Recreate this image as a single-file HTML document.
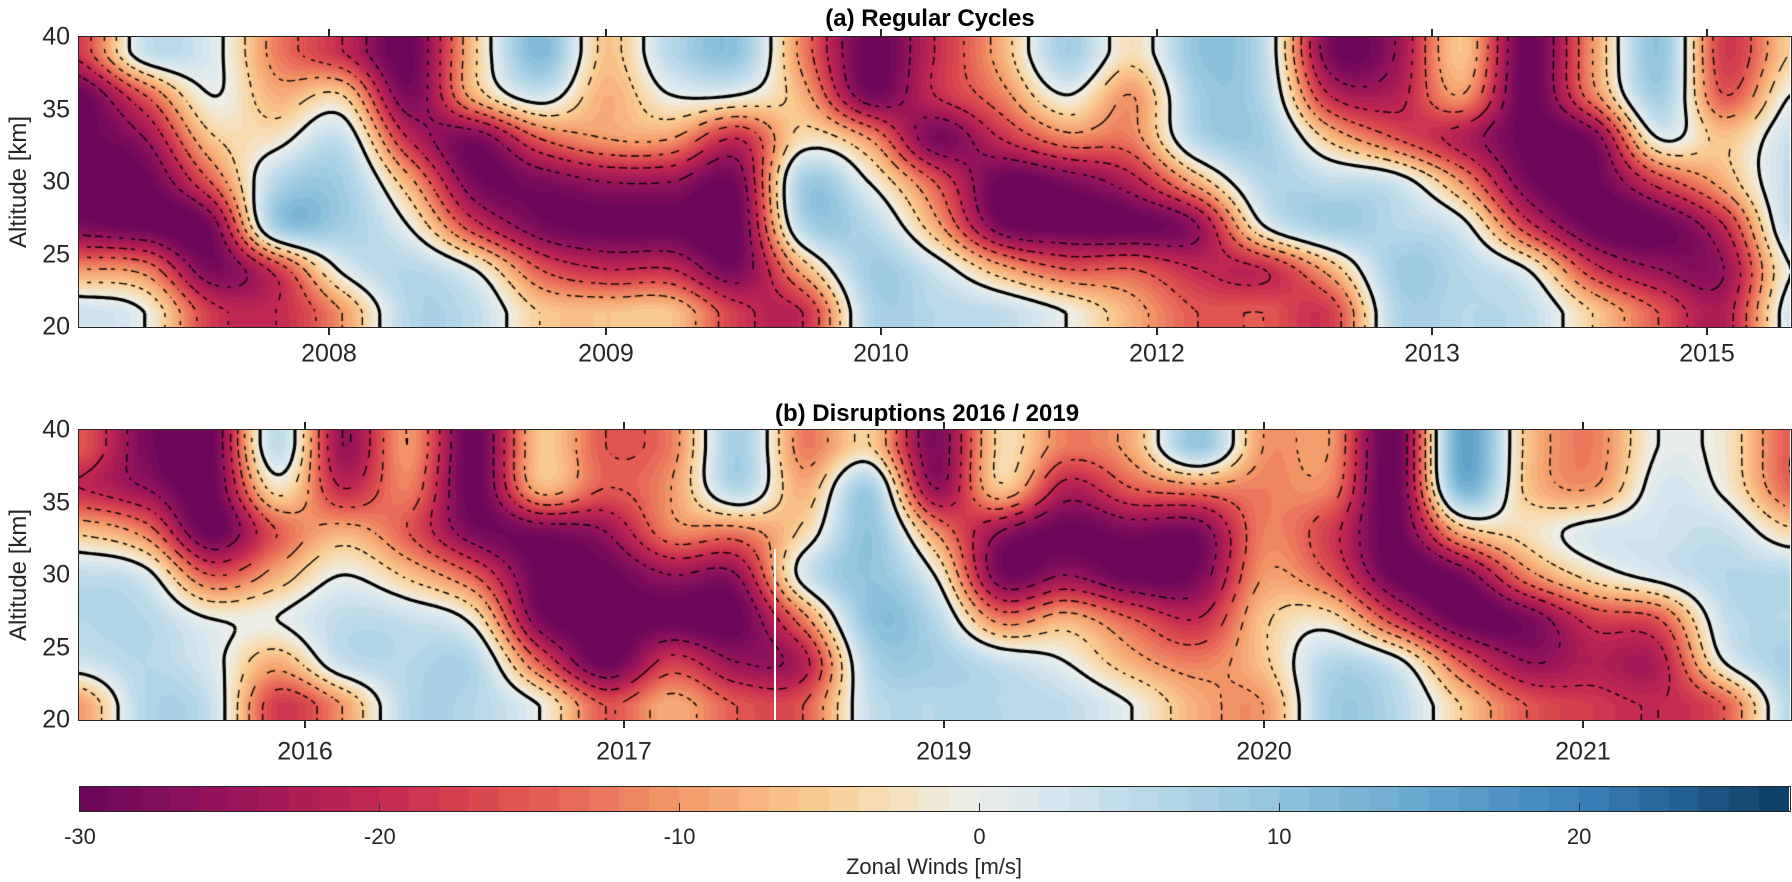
<!DOCTYPE html>
<html>
<head>
<meta charset="utf-8">
<style>
  html,body{margin:0;padding:0;background:#fff;}
  body{width:1792px;height:882px;position:relative;overflow:hidden;font-family:"Liberation Sans",Arial,sans-serif;color:#262626;}
  .abs{position:absolute;}
  .title{position:absolute;font-weight:bold;font-size:24px;color:#000;white-space:nowrap;transform:translate(-50%,-50%);}
  .frame{position:absolute;border:1.5px solid #262626;box-sizing:border-box;pointer-events:none;}
  .tl{position:absolute;font-size:25px;white-space:nowrap;transform:translate(-50%,-50%);}
  .yl{position:absolute;font-size:25px;white-space:nowrap;transform:translate(-100%,-50%);}
  .tick{position:absolute;background:#262626;width:1.5px;height:8px;}
  .ylab{position:absolute;font-size:24px;white-space:nowrap;transform:translate(-50%,-50%) rotate(-90deg);}
  .cbl{position:absolute;font-size:22px;white-space:nowrap;transform:translate(-50%,-50%);}
</style>
</head>
<body>
<div class="title" style="left:930px;top:19px;">(a) Regular Cycles</div>
<div class="title" style="left:927px;top:414px;">(b) Disruptions 2016 / 2019</div>

<canvas id="cvA" class="abs" width="1711" height="290" style="left:79px;top:37px;"></canvas>
<canvas id="cvB" class="abs" width="1711" height="290" style="left:79px;top:430px;"></canvas>
<div class="abs" style="left:774px;top:549px;width:2px;height:171px;background:#fff;"></div>
<div class="frame" style="left:78px;top:36px;width:1714px;height:292px;"></div>
<div class="frame" style="left:78px;top:429px;width:1714px;height:292px;"></div>

<div class="ylab" style="left:19px;top:182px;">Altitude [km]</div>
<div class="ylab" style="left:19px;top:575px;">Altitude [km]</div>

<canvas id="cvBar" class="abs" width="1709" height="24" style="left:80px;top:787px;"></canvas>
<div class="frame" style="left:79px;top:786px;width:1712px;height:26px;"></div>
<div class="cbl" style="left:934px;top:867px;">Zonal Winds [m/s]</div>

<div id="axes"></div>

<script>
// ---------- Panel (a) data: zonal wind [m/s] per altitude row, 27 time columns ----------
const aAlt21 = [4,0,-18,-20,-10,6,5,-5,-6,-6,-18,-20,6,6,5,0,-8,-15,-15,-18,6,6,5,-5,-15,-22,3];
const aAlt24 = [-10,-12,-28,-18,1,6,0,-15,-20,-20,-28,-8,8,3,-8,-15,-15,-20,-20,-8,8,6,0,-18,-25,-25,0];
const aAlt27 = [-28,-30,-28,8,8,0,-18,-28,-30,-30,-30,6,6,-8,-28,-30,-30,-25,0,8,6,2,-18,-30,-30,-20,5];
const aAlt30 = [-30,-30,-15,6,8,-8,-28,-28,-25,-25,-28,8,0,-15,-30,-28,-22,-8,6,5,3,-10,-28,-30,-18,-8,5];
const aAlt33 = [-30,-25,-6,-2,4,-20,-28,-15,-10,-10,-20,-3,-10,-28,-20,-12,-12,6,8,-6,-15,-22,-30,-28,0,-6,4];
const aAlt36 = [-30,-15,0,-8,-5,-28,-8,3,-8,0,0,-8,-28,-20,-12,0,-10,8,6,-20,-22,-10,-30,-12,8,-15,0];
const aAlt39 = [-18,4,2,-12,-20,-30,-6,12,-6,6,10,-12,-30,-20,-8,8,-3,10,5,-28,-25,-6,-30,-10,10,-18,-5];
// ---------- Panel (b) data ----------
const bAlt21 = [-10,6,4,-18,-10,6,6,0,-15,-8,-15,-15,4,6,6,5,0,-8,-10,8,6,-5,-15,-18,-20,-15,6];
const bAlt24 = [3,6,2,-8,4,6,6,-15,-30,-18,-25,-22,6,8,4,0,-8,-12,-6,6,2,-15,-25,-22,-22,0,8];
const bAlt27 = [6,6,0,0,5,4,-2,-28,-30,-30,-30,-12,10,6,-12,-8,-15,-20,-6,-3,-18,-30,-28,-18,-15,4,6];
const bAlt30 = [5,2,-15,-8,0,-6,-15,-30,-30,-25,-25,2,10,0,-28,-25,-30,-28,-10,-15,-30,-28,-12,-3,2,6,6];
const bAlt33 = [-6,-12,-30,-15,-8,-15,-28,-28,-25,-12,-12,-4,10,-10,-25,-30,-28,-28,-12,-18,-30,-8,-3,2,3,4,-4];
const bAlt36 = [-20,-25,-30,-3,-20,-12,-30,-8,-15,-10,6,-8,8,-25,-6,-22,-15,-12,-12,-12,-30,12,-6,-10,2,-1,-14];
const bAlt39 = [-15,-28,-30,5,-25,-10,-30,-6,-15,-12,8,-12,-5,-28,-4,-12,-8,10,-10,-10,-30,15,-6,-12,0,-2,-15];
const rowAltitudes = [21,24,27,30,33,36,39];
// ---------- Axis tick labels ----------
const aTickLabels = ["2008","2009","2010","2012","2013","2015"];
const aTickFrac = [0.1461,0.3080,0.4687,0.6300,0.7908,0.9515];
const bTickLabels = ["2016","2017","2019","2020","2021"];
const bTickFrac = [0.1321,0.3185,0.5055,0.6926,0.8790];
const yTickValues = [40,35,30,25,20];
const cbarTicks = [-30,-20,-10,0,10,20];
const cbarMin = -30, cbarMax = 27;
const contourNeg = [-25,-20,-15,-10,-5];

const rowsA = [aAlt21,aAlt24,aAlt27,aAlt30,aAlt33,aAlt36,aAlt39];
const rowsB = [bAlt21,bAlt24,bAlt27,bAlt30,bAlt33,bAlt36,bAlt39];

const stops = [
  [-30,[106,6,90]],[-25,[150,20,90]],[-20,[196,40,80]],[-15,[226,88,80]],
  [-10,[243,152,105]],[-5,[250,207,148]],[-1,[240,236,222]],[0,[236,239,236]],
  [3,[210,228,238]],[10,[146,197,222]],[15,[100,165,205]],[20,[60,130,185]],[27,[10,60,100]]
];
function cmap(v){
  v = Math.max(cbarMin, Math.min(cbarMax-0.001, v));
  v = Math.floor(v)+0.5;
  for(let i=0;i<stops.length-1;i++){
    const a=stops[i], b=stops[i+1];
    if(v<=b[0]){
      const t=(v-a[0])/(b[0]-a[0]);
      return [0,1,2].map(k=>Math.round(a[1][k]+(b[1][k]-a[1][k])*t));
    }
  }
  return stops[stops.length-1][1];
}

function cr(p0,p1,p2,p3,t){
  return 0.5*((2*p1)+(-p0+p2)*t+(2*p0-5*p1+4*p2-p3)*t*t+(-p0+3*p1-3*p2+p3)*t*t*t);
}
function makeField(rows, W, H){
  const nC = rows[0].length, nR = rows.length;
  const at=(j,i)=>rows[Math.max(0,Math.min(nR-1,j))][Math.max(0,Math.min(nC-1,i))];
  return function(px,py){
    let u = px/W*(nC-1);
    const alt = 40 - py/H*20;
    let v = (alt-rowAltitudes[0])/(rowAltitudes[1]-rowAltitudes[0]);
    u = Math.max(0,Math.min(nC-1.0001,u));
    v = Math.max(0,Math.min(nR-1.0001,v));
    const i=Math.floor(u), j=Math.floor(v), fu=u-i, fv=v-j;
    const r=[];
    for(let k=-1;k<=2;k++){
      r.push(cr(at(j+k,i-1),at(j+k,i),at(j+k,i+1),at(j+k,i+2),fu));
    }
    return cr(r[0],r[1],r[2],r[3],fv);
  };
}

function drawPanel(id, rows){
  const cv=document.getElementById(id), ctx=cv.getContext('2d');
  const W=cv.width, H=cv.height;
  const f=makeField(rows,W,H);
  const img=ctx.createImageData(W,H);
  for(let y=0;y<H;y++){
    for(let x=0;x<W;x++){
      const c=cmap(f(x,y)); const k=(y*W+x)*4;
      img.data[k]=c[0];img.data[k+1]=c[1];img.data[k+2]=c[2];img.data[k+3]=255;
    }
  }
  ctx.putImageData(img,0,0);
  const S=4, nx=Math.ceil(W/S), ny=Math.ceil(H/S);
  const g=[];
  for(let j=0;j<=ny;j++){const r=[];for(let i=0;i<=nx;i++)r.push(f(Math.min(W,i*S),Math.min(H,j*S)));g.push(r);}
  function contour(L, dashed){
    ctx.beginPath();
    for(let j=0;j<ny;j++)for(let i=0;i<nx;i++){
      const x0=i*S,y0=j*S;
      const v=[g[j][i],g[j][i+1],g[j+1][i+1],g[j+1][i]];
      const P=[[x0,y0],[x0+S,y0],[x0+S,y0+S],[x0,y0+S]];
      const pts=[];
      for(let e=0;e<4;e++){
        const a=v[e],b=v[(e+1)%4];
        if((a<L)!==(b<L)){
          const t=(L-a)/(b-a);
          const pa=P[e],pb=P[(e+1)%4];
          pts.push([pa[0]+(pb[0]-pa[0])*t,pa[1]+(pb[1]-pa[1])*t]);
        }
      }
      for(let p=0;p+1<pts.length;p+=2){
        const mx=(pts[p][0]+pts[p+1][0])/2,my=(pts[p][1]+pts[p+1][1])/2;
        if(dashed && (Math.floor((mx+my)/6)%2)!==0) continue;
        ctx.moveTo(pts[p][0],pts[p][1]);ctx.lineTo(pts[p+1][0],pts[p+1][1]);
      }
    }
    ctx.strokeStyle='#000';ctx.lineWidth=dashed?1.4:3.2;ctx.lineCap='butt';ctx.stroke();
  }
  contourNeg.forEach(L=>contour(L,true));
  contour(0,false);
}
drawPanel('cvA',rowsA);
drawPanel('cvB',rowsB);

(function(){
  const cv=document.getElementById('cvBar'),ctx=cv.getContext('2d');
  const W=cv.width,H=cv.height,n=cbarMax-cbarMin;
  for(let s=0;s<n;s++){
    const c=cmap(cbarMin+s+0.5);
    ctx.fillStyle='rgb('+c.join(',')+')';
    const x0=Math.floor(s*W/n),x1=Math.ceil((s+1)*W/n);
    ctx.fillRect(x0,0,x1-x0,H);
  }
})();

const axes=document.getElementById('axes');
function addEl(cls, name, left, top, text, extra){
  const d=document.createElement('div');
  d.className=cls;
  
  
  d.style.left=left+'px';d.style.top=top+'px';
  if(text!==null)d.textContent=text;
  if(extra)Object.assign(d.style,extra);
  axes.appendChild(d);
  return d;
}
const plotL=79, plotW=1711;
function xAxis(labels, fracs, top, bottom, labelY, prefix){
  labels.forEach((lab,i)=>{
    const x=plotL+fracs[i]*plotW;
    addEl('tl', prefix+'-x-tick-label-'+lab, x, labelY, lab);
    addEl('tick', prefix+'-x-tick-top-'+lab, x-0.75, top-8, null);
    addEl('tick', prefix+'-x-tick-bottom-'+lab, x-0.75, bottom, null);
  });
}
xAxis(aTickLabels,aTickFrac,37,327,354,'panel-a');
xAxis(bTickLabels,bTickFrac,430,720,752,'panel-b');
function yAxis(top, prefix){
  yTickValues.forEach(v=>{
    const y=top+(40-v)/20*290;
    addEl('yl', prefix+'-y-tick-label-'+v, 70, y, String(v));
  });
}
yAxis(37,'panel-a');
yAxis(430,'panel-b');
cbarTicks.forEach(v=>{
  const x=80+(v-cbarMin)/(cbarMax-cbarMin)*1709;
  addEl('cbl','colorbar-tick-label-'+v, x, 837, String(v));
  addEl('tick','colorbar-tick-'+v, x-0.5, 803, null, {height:'8px',width:'1px',background:'#333'});
});
</script>
</body>
</html>
